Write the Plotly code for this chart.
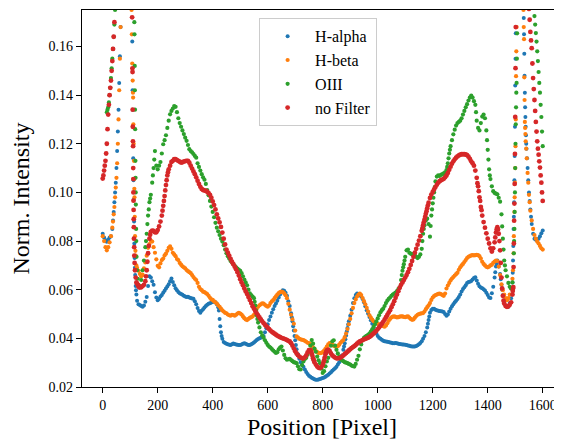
import plotly.graph_objects as go

# Positions (pixel) of the regular sampling grid, step 5
POSITIONS = list(range(0, 1601, 5))

H_ALPHA = [
    0.083, 0.0815, 0.0803, 0.0797, 0.0805, 0.0815, 0.082, 0.085, 0.092, 0.100, 0.110, 0.125, 0.145, 0.168, 0.19, 0.2, 0.21, 0.215, 0.215, 0.21,
    0.2, 0.185, 0.127, 0.079, 0.0615, 0.0555, 0.054, 0.0537, 0.0533, 0.053, 0.0535, 0.055, 0.057, 0.0615, 0.0655, 0.065, 0.0635, 0.062, 0.059, 0.0568,
    0.0557, 0.0563, 0.0572, 0.0578, 0.0588, 0.0596, 0.0605, 0.0613, 0.0622, 0.0635, 0.0646, 0.0632, 0.0618, 0.0606, 0.0598, 0.0591, 0.0585, 0.0582, 0.0579, 0.0575,
    0.0572, 0.057, 0.0571, 0.0568, 0.0566, 0.0564, 0.0563, 0.0553, 0.054, 0.0525, 0.0512, 0.0505, 0.0513, 0.052, 0.0527, 0.0533, 0.0538, 0.0542, 0.0544, 0.0547,
    0.055, 0.055, 0.0548, 0.054, 0.0528, 0.048, 0.0425, 0.0398, 0.0385, 0.0381, 0.0378, 0.0376, 0.0374, 0.0373, 0.0376, 0.0379, 0.0377, 0.0375, 0.0374, 0.0373,
    0.0373, 0.0375, 0.0378, 0.038, 0.0378, 0.0375, 0.0373, 0.0373, 0.0376, 0.0379, 0.0383, 0.0388, 0.0393, 0.0397, 0.04, 0.0403, 0.0406, 0.041, 0.0425, 0.0442,
    0.0458, 0.0475, 0.049, 0.0505, 0.052, 0.0533, 0.0543, 0.0555, 0.0568, 0.058, 0.0592, 0.0598, 0.0596, 0.0587, 0.0575, 0.0553, 0.0533, 0.0503, 0.047, 0.0432,
    0.0392, 0.0355, 0.0335, 0.0316, 0.0302, 0.029, 0.0283, 0.0272, 0.0262, 0.0253, 0.0246, 0.0242, 0.0238, 0.0235, 0.0232, 0.023, 0.023, 0.0231, 0.0233, 0.0235,
    0.0237, 0.0239, 0.0242, 0.0246, 0.025, 0.0256, 0.0261, 0.0267, 0.0272, 0.0277, 0.0283, 0.0292, 0.0302, 0.0315, 0.033, 0.0353, 0.038, 0.0412, 0.0443, 0.047,
    0.0493, 0.0518, 0.0545, 0.0565, 0.0578, 0.0584, 0.0582, 0.0578, 0.0572, 0.0562, 0.0548, 0.0532, 0.0516, 0.0502, 0.0488, 0.0474, 0.046, 0.0446, 0.0432, 0.042,
    0.041, 0.0403, 0.0398, 0.0394, 0.039, 0.0388, 0.0387, 0.0386, 0.0385, 0.0383, 0.0382, 0.038, 0.038, 0.0381, 0.038, 0.0378, 0.0377, 0.0376, 0.0375, 0.0375,
    0.0374, 0.0373, 0.0371, 0.037, 0.0368, 0.0367, 0.0366, 0.0367, 0.0369, 0.0372, 0.0376, 0.0381, 0.0388, 0.0398, 0.041, 0.0425, 0.0445, 0.0475, 0.0505, 0.0517,
    0.0522, 0.0522, 0.0518, 0.0516, 0.0514, 0.0512, 0.0511, 0.051, 0.0508, 0.05, 0.0493, 0.0498, 0.051, 0.0522, 0.0532, 0.054, 0.0548, 0.0555, 0.0562, 0.057,
    0.058, 0.0593, 0.0603, 0.061, 0.0618, 0.0628, 0.0632, 0.0633, 0.0636, 0.0642, 0.0648, 0.0651, 0.0638, 0.0625, 0.0614, 0.0609, 0.0606, 0.0602, 0.0597, 0.0587,
    0.0578, 0.0568, 0.0566, 0.0585, 0.0612, 0.065, 0.0695, 0.072, 0.0695, 0.0665, 0.062, 0.0578, 0.055, 0.0535, 0.0531, 0.053, 0.0545, 0.0565, 0.063, 0.09,
    0.144, 0.19, 0.2, 0.21, 0.2, 0.19, 0.18, 0.141, 0.12, 0.11, 0.1, 0.093, 0.087, 0.083, 0.081, 0.0805, 0.0805, 0.081, 0.082, 0.0832,
    0.0843,
]

H_BETA = [
    0.082, 0.080, 0.0775, 0.0762, 0.0775, 0.0795, 0.082, 0.0855, 0.091, 0.098, 0.106, 0.12, 0.142, 0.168, 0.19, 0.2, 0.21, 0.215, 0.215, 0.21,
    0.2, 0.175, 0.141, 0.1015, 0.074, 0.069, 0.0678, 0.0665, 0.0655, 0.0662, 0.0688, 0.0712, 0.074, 0.0772, 0.0788, 0.0802, 0.0798, 0.0775, 0.0752, 0.0725,
    0.0698, 0.0692, 0.0708, 0.0722, 0.0728, 0.0741, 0.0748, 0.076, 0.0772, 0.0778, 0.0768, 0.0752, 0.0745, 0.0738, 0.0726, 0.0722, 0.071, 0.0703, 0.0696, 0.0692,
    0.0688, 0.0681, 0.0676, 0.0672, 0.0668, 0.066, 0.0652, 0.0645, 0.064, 0.0628, 0.0612, 0.0603, 0.0598, 0.0592, 0.059, 0.0586, 0.0582, 0.0575, 0.0567, 0.056,
    0.0558, 0.0552, 0.0548, 0.0543, 0.0536, 0.053, 0.0522, 0.0515, 0.051, 0.0505, 0.0503, 0.0498, 0.0495, 0.0493, 0.0497, 0.0496, 0.0493, 0.0497, 0.0502, 0.0505,
    0.0502, 0.0498, 0.049, 0.0483, 0.0478, 0.0475, 0.048, 0.0484, 0.0487, 0.049, 0.0497, 0.051, 0.0522, 0.053, 0.0536, 0.054, 0.0544, 0.0543, 0.0538, 0.0533,
    0.053, 0.0535, 0.0545, 0.0552, 0.0557, 0.0565, 0.0573, 0.058, 0.0586, 0.059, 0.0592, 0.059, 0.0585, 0.0577, 0.0565, 0.0542, 0.0518, 0.0497, 0.0478, 0.046,
    0.0432, 0.0408, 0.0403, 0.0398, 0.0396, 0.0394, 0.0393, 0.039, 0.0386, 0.0382, 0.038, 0.0376, 0.037, 0.0362, 0.0355, 0.0348, 0.0343, 0.034, 0.0339, 0.034,
    0.0344, 0.035, 0.0357, 0.0366, 0.0375, 0.038, 0.0378, 0.0373, 0.037, 0.0367, 0.0366, 0.0368, 0.0374, 0.0382, 0.0388, 0.0393, 0.0405, 0.042, 0.0438, 0.0458,
    0.048, 0.0503, 0.0525, 0.0545, 0.056, 0.0572, 0.058, 0.0584, 0.0578, 0.0566, 0.0553, 0.054, 0.0525, 0.051, 0.0495, 0.0485, 0.0477, 0.047, 0.0466, 0.0462,
    0.046, 0.0458, 0.0456, 0.0453, 0.045, 0.0448, 0.0453, 0.0462, 0.0472, 0.048, 0.0486, 0.0489, 0.049, 0.0488, 0.0486, 0.0487, 0.0489, 0.049, 0.049, 0.0488,
    0.0487, 0.0489, 0.049, 0.0485, 0.048, 0.0476, 0.0478, 0.0485, 0.0492, 0.0497, 0.05, 0.0502, 0.0503, 0.0504, 0.051, 0.052, 0.0528, 0.0536, 0.0545, 0.0558,
    0.0568, 0.0574, 0.0578, 0.058, 0.0583, 0.0584, 0.0582, 0.0578, 0.0575, 0.0584, 0.0605, 0.0617, 0.0628, 0.0638, 0.0646, 0.0652, 0.0658, 0.0664, 0.067, 0.0682,
    0.0692, 0.07, 0.0706, 0.0714, 0.0722, 0.073, 0.0735, 0.0738, 0.0741, 0.0742, 0.0741, 0.0742, 0.0743, 0.0742, 0.0738, 0.0728, 0.0715, 0.0706, 0.07, 0.0694,
    0.0692, 0.0695, 0.07, 0.0703, 0.071, 0.0716, 0.072, 0.0718, 0.0695, 0.066, 0.0622, 0.0598, 0.058, 0.0565, 0.0557, 0.0565, 0.058, 0.0605, 0.0645, 0.082,
    0.110, 0.168, 0.19, 0.2, 0.2, 0.19, 0.175, 0.129, 0.118, 0.108, 0.099, 0.0925, 0.0885, 0.085, 0.0825, 0.081, 0.0798, 0.079, 0.078, 0.077,
    0.0765,
]

OIII = [
    None, None, None, 0.133, 0.135, 0.140, 0.147, 0.155, 0.164, 0.175, 0.186, 0.195, 0.203, 0.21, 0.215, 0.218, 0.22, 0.22, 0.218, 0.215,
    0.21, 0.2, 0.19, 0.17, 0.1, 0.068, 0.062, 0.0615, 0.064, 0.068, 0.072, 0.0775, 0.083, 0.0905, 0.096, 0.099, 0.104, 0.11, 0.117, 0.111,
    0.1095, 0.111, 0.1125, 0.116, 0.1198, 0.1215, 0.1235, 0.1265, 0.1295, 0.1321, 0.1335, 0.1345, 0.1355, 0.1352, 0.133, 0.1305, 0.1285, 0.127, 0.1255, 0.124,
    0.1225, 0.1212, 0.1195, 0.1178, 0.117, 0.1165, 0.1158, 0.115, 0.1143, 0.112, 0.1105, 0.109, 0.1075, 0.1062, 0.1052, 0.1035, 0.101, 0.0988, 0.0965, 0.0942,
    0.092, 0.0898, 0.0875, 0.0855, 0.084, 0.0825, 0.081, 0.0798, 0.0783, 0.0765, 0.075, 0.0738, 0.0728, 0.0718, 0.0712, 0.0705, 0.0698, 0.0692, 0.0687, 0.0682,
    0.0678, 0.0668, 0.0655, 0.0642, 0.063, 0.0618, 0.06, 0.0585, 0.0578, 0.0572, 0.0565, 0.0535, 0.0495, 0.0465, 0.0445, 0.0425, 0.0412, 0.0403, 0.0392, 0.0382,
    0.0373, 0.0366, 0.0362, 0.0356, 0.035, 0.0345, 0.034, 0.0343, 0.0355, 0.0362, 0.0366, 0.035, 0.0332, 0.0318, 0.0312, 0.0314, 0.0316, 0.0311, 0.0306, 0.0302,
    0.03, 0.0298, 0.0285, 0.0273, 0.0272, 0.029, 0.0305, 0.0315, 0.032, 0.0333, 0.0348, 0.037, 0.0393, 0.0378, 0.0358, 0.0345, 0.0325, 0.031, 0.0298, 0.0275,
    0.0258, 0.0265, 0.0285, 0.0305, 0.032, 0.0345, 0.037, 0.0388, 0.0392, 0.037, 0.0353, 0.0338, 0.0325, 0.0315, 0.031, 0.0306, 0.0302, 0.03, 0.0298, 0.0295,
    0.0292, 0.0288, 0.0286, 0.0284, 0.0295, 0.0312, 0.0328, 0.0355, 0.0375, 0.0392, 0.0402, 0.0407, 0.041, 0.0414, 0.042, 0.0428, 0.0437, 0.0447, 0.0458, 0.047,
    0.0482, 0.0495, 0.0507, 0.0516, 0.0522, 0.0533, 0.0545, 0.0555, 0.0562, 0.0568, 0.0575, 0.058, 0.0584, 0.0588, 0.0594, 0.0602, 0.061, 0.064, 0.0678, 0.0705,
    0.0735, 0.0762, 0.0765, 0.0752, 0.0748, 0.0745, 0.0746, 0.0742, 0.0735, 0.073, 0.0735, 0.0745, 0.0768, 0.083, 0.0865, 0.0885, 0.0892, 0.087, 0.0818, 0.0905,
    0.0955, 0.1, 0.1045, 0.1065, 0.107, 0.1068, 0.1072, 0.1075, 0.1078, 0.1082, 0.1092, 0.112, 0.116, 0.119, 0.1215, 0.1239, 0.1258, 0.1275, 0.1285, 0.129,
    0.1295, 0.1305, 0.132, 0.1335, 0.135, 0.1363, 0.1378, 0.139, 0.1398, 0.139, 0.1375, 0.136, 0.1295, 0.1265, 0.1255, 0.1285, 0.1312, 0.132, 0.1305, 0.1255,
    0.1175, 0.1095, 0.1055, 0.1025, 0.1005, 0.0998, 0.0995, 0.0992, 0.0978, 0.0962, 0.091, 0.081, 0.072, 0.068, 0.0655, 0.0628, 0.0612, 0.0605, 0.063, 0.075,
    0.11, 0.145, 0.19, 0.2, 0.21, 0.215, 0.215, 0.21, 0.2, 0.195, 0.195, 0.19, 0.185, 0.178, 0.1725, 0.1655, 0.158, 0.1495, 0.141, 0.131,
    0.119,
]

NO_FILTER = [
    0.1057, 0.109, 0.113, 0.120, 0.132, 0.140, 0.146, 0.154, 0.164, 0.176, 0.186, 0.195, 0.203, 0.21, 0.215, 0.218, 0.218, 0.215, 0.21, 0.203,
    0.195, 0.18, 0.121, 0.074, 0.065, 0.0625, 0.0615, 0.061, 0.061, 0.0615, 0.062, 0.0635, 0.068, 0.075, 0.081, 0.0838, 0.0843, 0.0842, 0.0836, 0.0836,
    0.0845, 0.086, 0.088, 0.0905, 0.0945, 0.0985, 0.103, 0.107, 0.1095, 0.111, 0.1125, 0.113, 0.1137, 0.1137, 0.1133, 0.113, 0.1126, 0.1123, 0.1124, 0.1127,
    0.1129, 0.113, 0.113, 0.1122, 0.111, 0.1098, 0.1086, 0.1075, 0.1062, 0.1048, 0.1035, 0.1023, 0.1014, 0.101, 0.1008, 0.1006, 0.1003, 0.0997, 0.099, 0.0978,
    0.0963, 0.0948, 0.093, 0.091, 0.0893, 0.0877, 0.0858, 0.0835, 0.081, 0.0786, 0.0765, 0.0752, 0.074, 0.0727, 0.0715, 0.0705, 0.0694, 0.0684, 0.0672, 0.0658,
    0.0643, 0.063, 0.0618, 0.0605, 0.0593, 0.0582, 0.057, 0.0558, 0.0545, 0.0532, 0.0522, 0.0512, 0.0503, 0.0494, 0.0486, 0.0478, 0.047, 0.0463, 0.0456, 0.045,
    0.0444, 0.0438, 0.0432, 0.0427, 0.0423, 0.0419, 0.0415, 0.0411, 0.0408, 0.0405, 0.0402, 0.04, 0.0398, 0.0396, 0.0393, 0.039, 0.0387, 0.038, 0.037, 0.0358,
    0.0347, 0.0338, 0.0331, 0.0325, 0.0321, 0.0318, 0.0318, 0.0322, 0.033, 0.0342, 0.0352, 0.0352, 0.0338, 0.0318, 0.0302, 0.0292, 0.0284, 0.0279, 0.0278, 0.0282,
    0.029, 0.031, 0.0335, 0.035, 0.0354, 0.0348, 0.0338, 0.033, 0.0325, 0.0321, 0.0318, 0.0318, 0.0319, 0.0321, 0.0325, 0.033, 0.0335, 0.034, 0.0345, 0.035,
    0.0355, 0.036, 0.0364, 0.0368, 0.0373, 0.0378, 0.0383, 0.0387, 0.039, 0.0393, 0.0396, 0.0398, 0.04, 0.0403, 0.0406, 0.041, 0.0415, 0.042, 0.0425, 0.0431,
    0.0438, 0.0445, 0.0452, 0.046, 0.0468, 0.0477, 0.0487, 0.0496, 0.0506, 0.0516, 0.0528, 0.054, 0.0553, 0.0567, 0.058, 0.0594, 0.0608, 0.062, 0.063, 0.064,
    0.065, 0.066, 0.0672, 0.0686, 0.0702, 0.0718, 0.0735, 0.0752, 0.0768, 0.0785, 0.0802, 0.082, 0.0842, 0.0865, 0.0888, 0.0912, 0.0935, 0.0958, 0.0977, 0.0991,
    0.1002, 0.1012, 0.1022, 0.1032, 0.104, 0.1046, 0.105, 0.1053, 0.1056, 0.1062, 0.107, 0.108, 0.1093, 0.1106, 0.1118, 0.1128, 0.1136, 0.1143, 0.1148, 0.1152,
    0.1155, 0.1157, 0.1157, 0.1157, 0.1156, 0.1153, 0.1147, 0.1138, 0.1128, 0.112, 0.111, 0.109, 0.106, 0.1025, 0.098, 0.094, 0.0905, 0.0878, 0.0855, 0.0832,
    0.081, 0.079, 0.077, 0.0757, 0.077, 0.0795, 0.0835, 0.0857, 0.083, 0.0762, 0.065, 0.0575, 0.0543, 0.0533, 0.053, 0.0532, 0.0538, 0.0548, 0.058, 0.079,
    0.131, 0.19, 0.2, 0.21, 0.215, 0.215, 0.21, 0.2, 0.19, 0.182, 0.1755, 0.166, 0.1593, 0.147, 0.138, 0.129, 0.121, 0.1155, 0.1102, 0.104,
    0.0965,
]

# Additional readings in the steep parts (off-grid positions)
H_ALPHA_EXTRA_X = [37.5, 42.5, 47.5, 52.5, 57.5, 62.5, 67.5,
                   106, 107.5, 108.5, 109.5, 111, 112, 113, 114, 116, 117, 118, 121, 122.5,
                   422.5, 427.5, 432.5, 687.5, 692.5, 697.5, 702.5, 877.5, 882.5, 887.5, 892.5,
                   1182.5, 1187.5, 1427.5, 1432.5, 1447.5, 1452.5,
                   1491, 1492, 1493, 1494, 1496, 1497, 1498, 1499, 1501, 1502, 1503,
                   1531, 1532, 1533, 1534, 1536, 1537, 1538, 1539, 1541, 1543, 1547.5, 1552.5, 1557.5]
H_ALPHA_EXTRA_Y = [0.0885, 0.096, 0.104, 0.117, 0.134, 0.156, 0.176,
                   0.178, 0.162, 0.142, 0.134, 0.114, 0.105, 0.097, 0.088, 0.073, 0.069, 0.066, 0.0598, 0.058,
                   0.0515, 0.045, 0.041, 0.0487, 0.045, 0.041, 0.0373, 0.0366, 0.0396, 0.0428, 0.0457,
                   0.046, 0.049, 0.0672, 0.0708, 0.0643, 0.06,
                   0.067, 0.072, 0.078, 0.085, 0.096, 0.105, 0.115, 0.127, 0.155, 0.1654, 0.18,
                   0.1717, 0.165, 0.157, 0.148, 0.135, 0.131, 0.127, 0.1235, 0.118, 0.114, 0.105, 0.0965, 0.09]

H_BETA_EXTRA_X = [37.5, 42.5, 47.5, 52.5, 57.5, 62.5, 67.5,
                  106, 107.5, 109, 110.5, 111.5, 112.5, 113.5, 114.5, 115.5, 116.5, 117.5, 119, 122.5,
                  1492, 1494, 1497, 1498, 1499, 1501, 1502, 1503, 1504,
                  1531, 1532, 1533, 1534, 1536, 1537, 1538, 1542, 1547.5, 1552.5]
H_BETA_EXTRA_Y = [0.088, 0.094, 0.102, 0.112, 0.13, 0.155, 0.178,
                  0.165, 0.153, 0.146, 0.139, 0.128, 0.12, 0.113, 0.1055, 0.098, 0.09, 0.082, 0.076, 0.07,
                  0.068, 0.075, 0.092, 0.098, 0.104, 0.119, 0.13, 0.1478, 0.158,
                  0.168, 0.163, 0.1473, 0.138, 0.1265, 0.124, 0.121, 0.114, 0.104, 0.096]

OIII_EXTRA_X = [17.5, 22.5, 27.5, 32.5, 37.5, 42.5,
                115.5, 116.5, 117, 117.5, 118, 119, 119.5, 120.5, 121.5, 122, 123, 127.5,
                157.5, 162.5, 167.5, 172.5, 182.5, 187.5, 552.5, 557.5, 562.5,
                1087.5, 1092.5, 1097.5, 1162.5, 1167.5, 1192.5, 1197.5, 1202.5, 1207.5,
                1252.5, 1257.5, 1262.5, 1357.5, 1397.5, 1402.5, 1407.5, 1452.5, 1457.5, 1462.5,
                1496, 1497, 1498, 1499, 1501, 1502, 1503, 1504, 1506, 1507, 1508,
                1572.5, 1577.5, 1582.5, 1587.5, 1592.5, 1597.5]
OIII_EXTRA_Y = [0.134, 0.137, 0.143, 0.151, 0.159, 0.169,
                0.165, 0.152, 0.142, 0.134, 0.126, 0.113, 0.106, 0.095, 0.085, 0.08, 0.0735, 0.0645,
                0.080, 0.087, 0.093, 0.0975, 0.107, 0.1135, 0.055, 0.0515, 0.048,
                0.066, 0.0692, 0.072, 0.080, 0.085, 0.0862, 0.093, 0.0978, 0.1022,
                0.1105, 0.114, 0.1175, 0.133, 0.1215, 0.1135, 0.107, 0.086, 0.0765, 0.07,
                0.08, 0.085, 0.092, 0.1, 0.12, 0.128, 0.135, 0.141, 0.155, 0.1654, 0.18,
                0.169, 0.162, 0.154, 0.145, 0.136, 0.125]

NO_FILTER_EXTRA_X = [2.5, 7.5, 12.5, 17.5, 22.5, 27.5, 32.5, 37.5, 42.5,
                     106, 107, 108, 108.5, 109, 109.5, 110.5, 111, 111.3, 111.6, 112, 112.4, 112.8, 113.2, 113.6, 114.5,
                     116, 117.5, 122.5, 127.5, 132.5,
                     157.5, 162.5, 167.5, 172.5, 217.5, 222.5, 227.5, 232.5, 237.5,
                     757.5, 762.5, 767.5, 802.5, 807.5, 812.5,
                     1162.5, 1167.5, 1172.5, 1177.5, 1182.5,
                     1362.5, 1367.5, 1372.5, 1377.5, 1427.5, 1432.5, 1437.5, 1442.5, 1447.5, 1452.5, 1457.5,
                     1491, 1492, 1493, 1494, 1496, 1497, 1498, 1499, 1501, 1502, 1503,
                     1552.5, 1557.5, 1562.5, 1567.5, 1572.5, 1577.5, 1582.5, 1587.5, 1592.5, 1597.5]
NO_FILTER_EXTRA_Y = [0.107, 0.111, 0.116, 0.126, 0.136, 0.143, 0.150, 0.159, 0.170,
                     0.183, 0.172, 0.151, 0.1495, 0.134, 0.127, 0.119, 0.110, 0.1055, 0.100, 0.0966, 0.0928, 0.089, 0.0857, 0.081, 0.0775,
                     0.071, 0.068, 0.063, 0.062, 0.061,
                     0.0655, 0.0715, 0.078, 0.0826, 0.0925, 0.0965, 0.1008, 0.105, 0.1083,
                     0.0346, 0.0328, 0.031, 0.030, 0.0322, 0.0343,
                     0.0853, 0.0877, 0.09, 0.0923, 0.0947,
                     0.1038, 0.1005, 0.0965, 0.0927, 0.0815, 0.0848, 0.0848, 0.080, 0.071, 0.0605, 0.0555,
                     0.0595, 0.0605, 0.0611, 0.0693, 0.0884, 0.0954, 0.1035, 0.1158, 0.1511, 0.168, 0.18,
                     0.171, 0.1625, 0.153, 0.1425, 0.1335, 0.125, 0.118, 0.1128, 0.107, 0.1]

SERIES = [
    ("H-alpha", H_ALPHA, H_ALPHA_EXTRA_X, H_ALPHA_EXTRA_Y, "#1f77b4", 4.0),
    ("H-beta", H_BETA, H_BETA_EXTRA_X, H_BETA_EXTRA_Y, "#ff7f0e", 4.2),
    ("OIII", OIII, OIII_EXTRA_X, OIII_EXTRA_Y, "#2ca02c", 4.2),
    ("no Filter", NO_FILTER, NO_FILTER_EXTRA_X, NO_FILTER_EXTRA_Y, "#d62728", 4.8),
]

X_TICKS = [0, 200, 400, 600, 800, 1000, 1200, 1400, 1600]
Y_TICKS = [0.02, 0.04, 0.06, 0.08, 0.10, 0.12, 0.14, 0.16]

FONT = "Liberation Serif"

fig = go.Figure()
for name, grid_vals, ex_x, ex_y, color, size in SERIES:
    pts = [(x, y) for x, y in zip(POSITIONS, grid_vals) if y is not None]
    pts += list(zip(ex_x, ex_y))
    pts.sort()
    fig.add_trace(go.Scatter(
        x=[p[0] for p in pts], y=[p[1] for p in pts],
        mode="markers", name=name,
        marker=dict(color=color, size=size, line=dict(width=0)),
    ))

# the page body adds an 8 px offset, so the figure is 8 px smaller on each side
fig.update_layout(
    width=554, height=439,
    margin=dict(l=74, r=0, t=2, b=60),
    paper_bgcolor="white", plot_bgcolor="white",
    font=dict(family=FONT, color="black", size=14),
    legend=dict(
        x=0.369, y=0.978, xanchor="left", yanchor="top",
        bgcolor="rgba(255,255,255,0.85)", bordercolor="#cccccc", borderwidth=1,
        font=dict(family=FONT, size=16), itemwidth=45,
    ),
)
fig.update_xaxes(
    range=[-75.3, 1670.1], tickvals=X_TICKS, ticktext=[str(v) for v in X_TICKS],
    showgrid=False, zeroline=False, automargin=False,
    showline=True, linecolor="black", linewidth=1.2, mirror=True,
    ticks="outside", ticklen=5, tickwidth=1, tickcolor="black",
    tickfont=dict(family=FONT, size=14),
    title=dict(text="Position [Pixel]", font=dict(family=FONT, size=24), standoff=6),
)
fig.update_yaxes(
    range=[0.02, 0.175], tickvals=Y_TICKS, ticktext=[f"{v:.2f}" for v in Y_TICKS],
    showgrid=False, zeroline=False, automargin=False,
    showline=True, linecolor="black", linewidth=1.2,
    ticks="outside", ticklen=5, tickwidth=1, tickcolor="black",
    tickfont=dict(family=FONT, size=14),
    title=dict(text="Norm. Intensity", font=dict(family=FONT, size=24), standoff=15),
)

fig.write_html("out.html")
